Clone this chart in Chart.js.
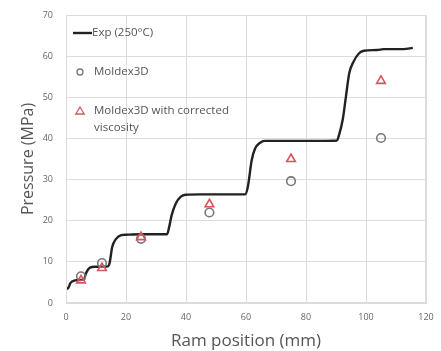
<!DOCTYPE html>
<html><head><meta charset="utf-8">
<script src="https://cdn.jsdelivr.net/npm/chart.js@4.4.1/dist/chart.umd.min.js"></script>
<style>html,body{margin:0;padding:0;background:#fff;}#wrap{width:441px;height:351px;position:relative;}</style>
</head><body><div id="wrap"><canvas id="c" width="441" height="351"></canvas></div>
<script>
const expX = [0,0.8,1.5,3,4.5,6,6.6,8,9.6,12,14,14.5,15.4,16.7,18.4,20,25,30,33.7,34.4,35.2,36.6,38.2,39.9,45,50,55,59.7,60.6,61.9,63,64.6,66.3,70,75,80,85,90.3,91,92.2,93.3,94.4,95.8,97.7,99.3,103.7,105.9,112.5,115.6];
const expY = [3.4,3.7,4.9,5.5,5.6,5.7,7.1,8.6,8.8,8.8,8.9,9.6,13.6,15.6,16.5,16.6,16.7,16.7,16.7,18.5,21.3,24.2,25.8,26.3,26.4,26.4,26.4,26.4,28.2,34.7,37.5,38.9,39.4,39.4,39.4,39.4,39.4,39.5,40.8,44.4,50.1,55.8,58.6,60.7,61.3,61.5,61.7,61.7,62.0];
const simX = [5,12,25,47.8,75,105];
const moldexY = [6.5,9.7,15.6,22.0,29.6,40.1];
const correctedY = [5.5,8.5,16.0,24.0,35.0,54.0];
const xTicks = [0,20,40,60,80,100,120];
const yTicks = [0,10,20,30,40,50,60,70];
const legendLabels = ['Exp (250°C)','Moldex3D',['Moldex3D with corrected','viscosity']];

const FONT = '"Open Sans"';
const lineColor = '#222', circColor = '#777', triColor = '#d8545c';

const legendPlugin = {
  id: 'inLegend',
  afterDraw(chart) {
    const ctx = chart.ctx, a = chart.chartArea;
    ctx.save();
    ctx.font = '11.5px ' + FONT;
    ctx.fillStyle = '#555';
    ctx.textBaseline = 'middle';
    ctx.textAlign = 'left';
    ctx.strokeStyle = lineColor; ctx.lineWidth = 2.4;
    ctx.beginPath(); ctx.moveTo(a.left+7, a.top+18); ctx.lineTo(a.left+26, a.top+18); ctx.stroke();
    ctx.fillText(legendLabels[0], a.left+26, a.top+18);
    ctx.strokeStyle = circColor; ctx.lineWidth = 1.3;
    ctx.beginPath(); ctx.arc(a.left+14, a.top+57, 3, 0, Math.PI*2); ctx.stroke();
    ctx.fillText(legendLabels[1], a.left+28, a.top+57);
    ctx.strokeStyle = triColor; ctx.lineWidth = 1.3;
    const tx = a.left+14, ty = a.top+96;
    ctx.beginPath(); ctx.moveTo(tx, ty-4); ctx.lineTo(tx+4.2, ty+3); ctx.lineTo(tx-4.2, ty+3); ctx.closePath(); ctx.stroke();
    ctx.fillText(legendLabels[2][0], a.left+28, a.top+96);
    ctx.fillText(legendLabels[2][1], a.left+28, a.top+113);
    ctx.restore();
  }
};

new Chart(document.getElementById('c'), {
  type: 'scatter',
  data: {
    datasets: [
      {label: legendLabels[0], data: expX.map((x,i)=>({x, y: expY[i]})), showLine: true, borderColor: lineColor, borderWidth: 2.4, pointRadius: 0, cubicInterpolationMode: 'monotone', order: 3},
      {label: legendLabels[1], data: simX.map((x,i)=>({x, y: moldexY[i]})), pointStyle: 'circle', pointRadius: 4.3, borderColor: circColor, backgroundColor: 'rgba(0,0,0,0)', borderWidth: 1.6, order: 2},
      {label: legendLabels[2].join(' '), data: simX.map((x,i)=>({x, y: correctedY[i]})), pointStyle: 'triangle', pointRadius: 5, borderColor: triColor, backgroundColor: 'rgba(0,0,0,0)', borderWidth: 1.6, order: 1}
    ]
  },
  options: {
    responsive: false, animation: false, devicePixelRatio: 1,
    layout: {padding: {top: 15, right: 15, left: 19, bottom: 0}},
    plugins: {legend: {display: false}, tooltip: {enabled: false}},
    scales: {
      x: {
        type: 'linear', min: 0, max: 120,
        afterBuildTicks: s => { s.ticks = xTicks.map(v=>({value:v})); },
        afterFit: s => { s.height = 48; s.paddingLeft = 0; s.paddingRight = 0; },
        grid: {color: '#dcdcdc', lineWidth: 1, drawTicks: false},
        border: {color: '#dcdcdc'},
        ticks: {color: '#666', font: {family: FONT, size: 9}, padding: 9, maxRotation: 0},
        title: {display: true, text: 'Ram position (mm)', color: '#555', font: {family: FONT, size: 17}, padding: {top: 0, bottom: 0}}
      },
      y: {
        type: 'linear', min: 0, max: 70,
        afterBuildTicks: s => { s.ticks = yTicks.map(v=>({value:v})); },
        afterFit: s => { s.width = 47; s.paddingTop = 0; s.paddingBottom = 0; },
        grid: {color: '#dcdcdc', lineWidth: 1, drawTicks: false},
        border: {color: '#dcdcdc'},
        ticks: {color: '#666', font: {family: FONT, size: 9}, padding: 13},
        title: {display: true, text: 'Pressure (MPa)', color: '#555', font: {family: FONT, size: 16}, padding: {top: 0, bottom: 4}}
      }
    }
  },
  plugins: [legendPlugin, {
    id: 'frame',
    afterDraw(chart) {
      const ctx = chart.ctx, a = chart.chartArea;
      ctx.save(); ctx.strokeStyle = '#dcdcdc'; ctx.lineWidth = 1;
      ctx.strokeRect(a.left+0.5, a.top+0.5, a.width-1, a.height-1); ctx.restore();
    }
  }]
});
</script></body></html>
